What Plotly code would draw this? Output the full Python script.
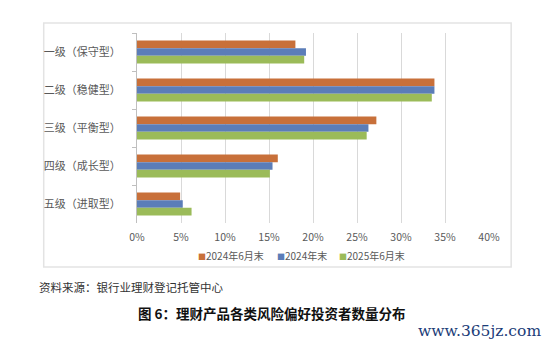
import plotly.graph_objects as go

# Risk-preference categories and investor share (%) per period
categories = ["一级（保守型）", "二级（稳健型）", "三级（平衡型）", "四级（成长型）", "五级（进取型）"]
series_names = ["2024年6月末", "2024年末", "2025年6月末"]
share_2024h1 = [18.0, 33.8, 27.2, 16.0, 4.9]
share_2024 = [19.2, 33.8, 26.3, 15.4, 5.2]
share_2025h1 = [19.0, 33.5, 26.1, 15.1, 6.2]
x_ticks = [0, 5, 10, 15, 20, 25, 30, 35, 40]
x_tick_labels = [f"{v}%" for v in x_ticks]

colors = ["#C8703A", "#5B7DB8", "#9BBB59"]

W, H = 550, 346
L, R, T, B = 136.5, 489.3, 33, 223


def px_x(x):
    return (x - L) / (R - L)


def px_y(y):
    return (B - y) / (B - T)


fig = go.Figure()
for name, vals, col in zip(series_names, [share_2024h1, share_2024, share_2025h1], colors):
    fig.add_trace(go.Bar(
        y=categories, x=vals, name=name, orientation="h",
        marker=dict(color=col, line=dict(width=0)),
    ))

# compact legend row: small coloured square glued to its label
legend_x = [196, 275, 337]
legend_notes = [
    dict(text=f"<span style='color:{col};font-size:8px'>■</span>{name}", xref="paper", yref="paper",
         x=px_x(lx), y=px_y(255), xanchor="left", yanchor="middle", showarrow=False,
         font=dict(size=10, color="#595959", family="Noto Sans CJK SC"))
    for name, col, lx in zip(series_names, colors, legend_x)
]

fig.update_layout(
    width=W, height=H,
    margin=dict(l=L, r=W - R, t=T, b=H - B, pad=0),
    paper_bgcolor="white", plot_bgcolor="white",
    barmode="group", bargap=0.395, bargroupgap=0,
    font=dict(family="Noto Sans CJK SC", color="#595959"),
    showlegend=False,
    xaxis=dict(
        range=[0, 40], tickvals=x_ticks, ticktext=x_tick_labels,
        showgrid=True, gridcolor="#D9D9D9", gridwidth=1,
        zeroline=False, showline=False, ticks="",
        tickfont=dict(size=10.5, color="#595959"), ticklabelstandoff=6,
        fixedrange=True,
    ),
    yaxis=dict(
        autorange="reversed", type="category",
        showline=True, linecolor="#BFBFBF", linewidth=1,
        ticks="outside", ticklen=4, tickcolor="#BFBFBF", tickson="boundaries",
        showgrid=False, tickfont=dict(size=11, color="#595959"),
        ticklabelstandoff=13, fixedrange=True,
    ),
    shapes=[dict(
        type="rect", xref="paper", yref="paper",
        x0=px_x(43), x1=px_x(511.5), y0=px_y(267), y1=px_y(23),
        line=dict(color="#E3E3E3", width=1.5), fillcolor="rgba(0,0,0,0)", layer="below",
    )],
    annotations=legend_notes + [
        dict(text="资料来源：银行业理财登记托管中心", xref="paper", yref="paper",
             x=px_x(36), y=px_y(287), xanchor="left", yanchor="middle", showarrow=False,
             font=dict(size=11.5, color="#333333", family="Noto Sans CJK SC")),
        dict(text="<b>图 6：理财产品各类风险偏好投资者数量分布</b>", xref="paper", yref="paper",
             x=px_x(272), y=px_y(313), xanchor="center", yanchor="middle", showarrow=False,
             font=dict(size=13.5, color="#111111", family="Noto Sans CJK SC")),
        dict(text="www.365jz.com", xref="paper", yref="paper",
             x=px_x(543), y=px_y(331), xanchor="right", yanchor="middle", showarrow=False,
             font=dict(size=15.5, color="#1B3C78", family="DejaVu Serif")),
    ],
)

fig.write_html("out.html")
